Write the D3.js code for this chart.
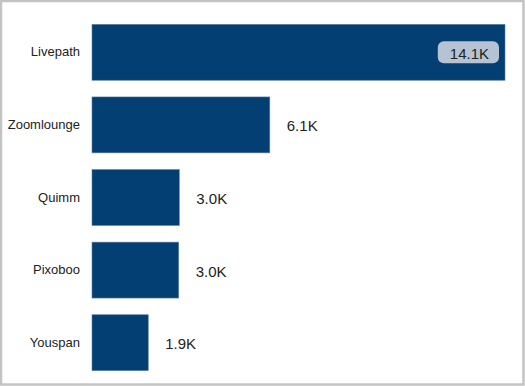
<!DOCTYPE html>
<html>
<head>
<meta charset="utf-8">
<script src="https://cdn.jsdelivr.net/npm/d3@7"></script>
<style>
  html, body { margin: 0; padding: 0; background: #fff; }
  svg { display: block; font-family: "Liberation Sans", Arial, sans-serif; }
</style>
</head>
<body>
<div id="chart"></div>
<script>
const WIDTH = 525;
const HEIGHT = 386;
const BAR_COLOR = "#033f73";
const BORDER_COLOR = "#c3c3c3";
const LABEL_GAP = 17;

const categories = ["Livepath", "Zoomlounge", "Quimm", "Pixoboo", "Youspan"];
const values = [14100, 6070, 2980, 2960, 1920];

const fmt = (v) => d3.format(".1f")(v / 1000) + "K";

const svg = d3.select("#chart")
  .append("svg")
  .attr("width", WIDTH)
  .attr("height", HEIGHT);

// outer frame
svg.append("rect")
  .attr("x", 1).attr("y", 1)
  .attr("width", WIDTH - 2.5).attr("height", HEIGHT - 2.5)
  .attr("fill", "#fff")
  .attr("stroke", BORDER_COLOR)
  .attr("stroke-width", 2.5);

// scales
const xScale = d3.scaleLinear()
  .domain([0, 14100])
  .range([92, 505]);

const yScale = d3.scaleBand()
  .domain(categories)
  .range([16, 379])
  .paddingInner(0.23)
  .paddingOuter(0.115);

// category axis
const yAxis = d3.axisLeft(yScale).tickSize(0).tickPadding(12);
const gy = svg.append("g")
  .attr("transform", "translate(" + 92 + ",0)")
  .call(yAxis);
gy.select(".domain").remove();
gy.selectAll("text")
  .style("font-size", "13px")
  .style("fill", "#222");

// bars
const rows = categories.map((c, i) => ({cat: c, value: values[i]}));

svg.selectAll("rect.bar")
  .data(rows)
  .enter()
  .append("rect")
  .attr("class", "bar")
  .attr("x", xScale(0))
  .attr("y", (d) => yScale(d.cat))
  .attr("width", (d) => xScale(d.value) - xScale(0))
  .attr("height", yScale.bandwidth())
  .attr("fill", BAR_COLOR)
  .attr("stroke", "#5c7ea3")
  .attr("stroke-width", 0.6);

// value labels
const labels = svg.selectAll("g.lbl")
  .data(rows)
  .enter()
  .append("g")
  .attr("class", "lbl");

labels.each(function(d) {
  const g = d3.select(this);
  const cy = yScale(d.cat) + yScale.bandwidth() / 2;
  const end = xScale(d.value);
  const t = g.append("text")
    .text(fmt(d.value))
    .attr("dominant-baseline", "central")
    .style("font-size", "15px")
    .style("fill", "#222");
  const w = t.node().getComputedTextLength();
  if (end + LABEL_GAP + w > xScale.range()[1]) {
    // no room outside: draw inside the bar on a pill
    const boxW = w + 22, boxH = 22;
    const bx = end - 6 - boxW;
    g.insert("rect", "text")
      .attr("x", bx)
      .attr("y", cy - boxH / 2)
      .attr("width", boxW)
      .attr("height", boxH)
      .attr("rx", 6)
      .attr("fill", "#b6c3d3");
    t.attr("x", bx + boxW / 2 + 1)
      .attr("y", cy + 1)
      .attr("text-anchor", "middle");
  } else {
    t.attr("x", end + LABEL_GAP).attr("y", cy + 1);
  }
});
</script>
</body>
</html>
